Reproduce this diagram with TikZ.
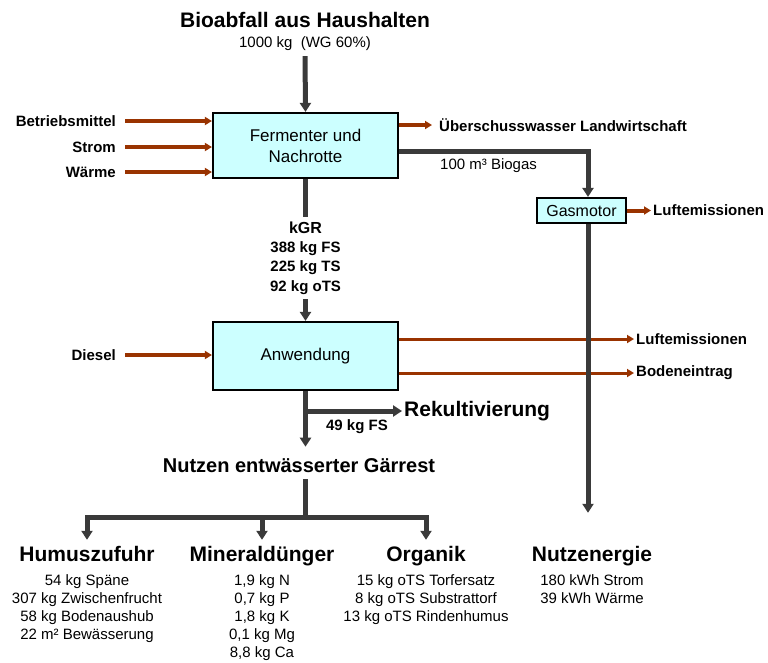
\documentclass[tikz,border=0pt]{standalone}
\usepackage{fontspec}
\setmainfont{Liberation Sans}
\usepackage{tikz}
\usetikzlibrary{arrows.meta, positioning}

\definecolor{boxcyan}{HTML}{CCFFFF}
\definecolor{flowgray}{HTML}{3A3A3A}
\definecolor{flowbrown}{HTML}{993300}
\newcommand{\fsz}[2]{\fontsize{#1}{#2}\selectfont}

\begin{document}
\begin{tikzpicture}[
    x=1pt, y=-1pt,
    every node/.style={inner sep=2pt},
    proc/.style={draw=black, line width=2.2pt, fill=boxcyan, align=center,
                 font=\fsz{17}{21}},
    lbl/.style={font=\bfseries\fsz{15}{18}},
    val/.style={font=\fsz{15}{18}, align=center},
    cat/.style={font=\bfseries\fsz{21}{25}, text height=15pt, text depth=4pt},
    grarr/.style={draw=flowgray, line width=5pt, -{Triangle[width=11pt,length=9pt]}},
    grline/.style={draw=flowgray, line width=5pt},
    brarr/.style={draw=flowbrown, line width=4pt, -{Triangle[width=8pt,length=7pt]}},
    brthin/.style={brarr, line width=3pt},
  ]
  \useasboundingbox (0,0) rectangle (768,662);

  % Input
  \node[font=\bfseries\fsz{21}{25}] (quelle) at (305,20) {Bioabfall aus Haushalten};
  \node[val] (menge) at (305,44) {1000 kg\ \ (WG 60\%)};
  \node[proc, minimum width=185pt, minimum height=65pt] (ferm) at (305.5,145.5)
    {Fermenter und\\Nachrotte};
  \draw[grarr, shorten <=3pt] (menge.south) -- (ferm.north);

  \node[lbl, anchor=east] (betrieb) at (118,121) {Betriebsmittel};
  \node[lbl, anchor=east] (strom) at (118,147) {Strom};
  \node[lbl, anchor=east] (waerme) at (118,172) {Wärme};
  \foreach \n in {betrieb, strom, waerme}
    \draw[brarr] ([xshift=7pt]\n.east) -- (\n -| ferm.west);

  \node[lbl, anchor=west] (ueber) at (437,125) {Überschusswasser Landwirtschaft};
  \draw[brarr, shorten >=5pt] (ferm.east |- ueber) -- (ueber.west);

  % Biogas
  \node[proc, font=\fsz{16}{19}, minimum width=89pt, minimum height=25pt, inner sep=0pt]
    (gas) at (581.5,210.5) {Gasmotor};
  \node[val, anchor=west] (biogas) at (438,166) {100 m³ Biogas};
  \node[lbl, anchor=west] (luft1) at (651,210.5) {Luftemissionen};
  \draw[brarr] (gas.east) -- (luft1.west);

  % Application
  \node[proc, minimum width=185pt, minimum height=68pt] (anw) at (305.5,356) {Anwendung};
  \draw[grarr] (ferm.south) -- (anw.north);
  \node[fill=white, inner sep=5pt, align=center, font=\bfseries\fsz{15}{19.3}] (kgr)
    at (305.5,258) {{\fsz{16}{19.3}kGR}\\388 kg FS\\225 kg TS\\92 kg oTS};

  \node[lbl, anchor=east] (diesel) at (118,355) {Diesel};
  \draw[brarr] ([xshift=7pt]diesel.east) -- (diesel -| anw.west);

  \node[lbl, anchor=west] (luft2) at (634,339) {Luftemissionen};
  \node[lbl, anchor=west] (boden) at (634,373) {Bodeneintrag};
  \draw[brthin] (anw.east |- luft2) -- (luft2.west);
  \draw[brthin] (anw.east |- boden) -- (boden.west);

  % Energy
  \node[cat] (energy) at (592,555.5) {Nutzenergie};
  \node[val, below=5pt of energy] (energyl) {180 kWh Strom\\39 kWh Wärme};
  \coordinate (gasline) at ([xshift=-4pt,yshift=31pt]energy.north);
  \draw[grarr] ([yshift=-5.5pt]ferm.east) -| (gasline |- gas.north);
  \draw[grarr] (gasline |- gas.south) -- (gasline);

  % Recultivation
  \node[cat, anchor=west] (rek) at (402,411) {Rekultivierung};
  \node[lbl] (rekmenge) at (357,427) {49 kg FS};
  \draw[grarr] (anw.south |- rek) -- (rek.west);

  % Use of dewatered digestate
  \node[font=\bfseries\fsz{20}{24}] (gaer) at (299,466) {Nutzen entwässerter Gärrest};
  \draw[grarr, shorten >=10pt] (anw.south) -- (anw.south |- gaer.north);
  \coordinate (split) at (305.5,517);
  \draw[grline, shorten <=4pt] (anw.south |- gaer.south) -- (split);

  \node[cat] (humus) at (87,555.5) {Humuszufuhr};
  \node[cat] (mineral) at (262,555.5) {Mineraldünger};
  \node[cat] (organik) at (426,555.5) {Organik};
  \foreach \n in {humus, mineral, organik}
    \draw[grarr, shorten >=4pt] (split) -| (\n.north);

  \node[val, below=5pt of humus] (humusl)
    {54 kg Späne\\307 kg Zwischenfrucht\\58 kg Bodenaushub\\22 m² Bewässerung};
  \node[val, below=5pt of mineral] (minerall)
    {1,9 kg N\\0,7 kg P\\1,8 kg K\\0,1 kg Mg\\8,8 kg Ca};
  \node[val, below=5pt of organik] (organikl)
    {15 kg oTS Torfersatz\\8 kg oTS Substrattorf\\13 kg oTS Rindenhumus};
\end{tikzpicture}
\end{document}
